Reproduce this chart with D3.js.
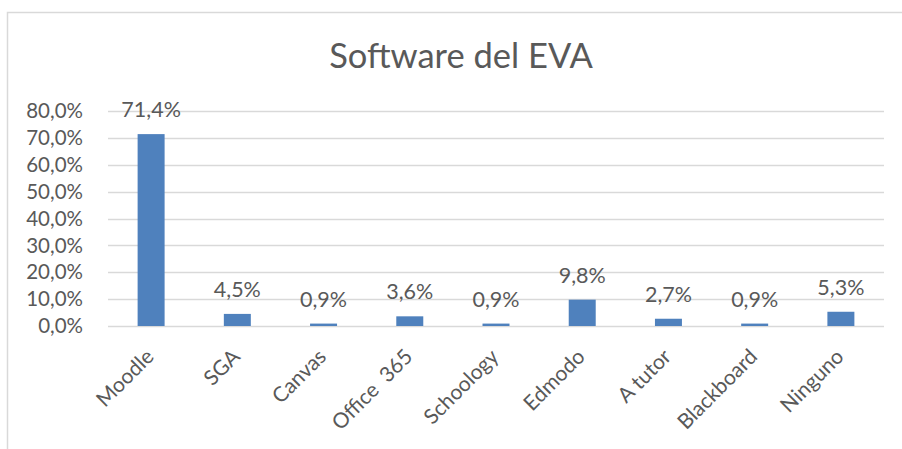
<!DOCTYPE html>
<html>
<head>
<meta charset="utf-8">
<script src="https://cdn.jsdelivr.net/npm/d3@7"></script>
<style>
  body { margin: 0; background: #fff; }
  text { font-family: Lato, "Open Sans", sans-serif; fill: #595959; }
</style>
</head>
<body>
<div id="chart"></div>
<script>
// data
const categories = ["Moodle", "SGA", "Canvas", "Office  365", "Schoology", "Edmodo", "A tutor", "Blackboard", "Ninguno"];
const values = [71.4, 4.5, 0.9, 3.6, 0.9, 9.8, 2.7, 0.9, 5.3];
const yTicks = [0, 10, 20, 30, 40, 50, 60, 70, 80];
const title = "Software del EVA";

const W = 902, H = 449;
const plot = {left: 108, right: 884, top: 111, bottom: 326};

const fmt = v => d3.format(".1f")(v).replace(".", ",") + "%";

const svg = d3.select("#chart")
  .append("svg")
    .attr("width", W)
    .attr("height", H);

// chart border
svg.append("rect")
  .attr("x", 7.5).attr("y", 12.5)
  .attr("width", W).attr("height", H)
  .attr("fill", "none")
  .attr("stroke", "#d9d9d9")
  .attr("stroke-width", 1.5);

const x = d3.scaleBand()
  .domain(categories)
  .range([plot.left, plot.right])
  .paddingInner(0.687)
  .paddingOuter(0.3435);

const y = d3.scaleLinear()
  .domain([0, 80])
  .range([plot.bottom, plot.top]);

// gridlines
svg.append("g")
  .selectAll("line")
  .data(yTicks)
  .join("line")
    .attr("x1", plot.left).attr("x2", plot.right)
    .attr("y1", d => Math.round(y(d)) + 0.5)
    .attr("y2", d => Math.round(y(d)) + 0.5)
    .attr("stroke", "#d9d9d9")
    .attr("stroke-width", 1.5);

// y tick labels
svg.append("g")
  .selectAll("text")
  .data(yTicks)
  .join("text")
    .attr("x", 83)
    .attr("y", d => y(d))
    .attr("dy", "0.35em")
    .attr("text-anchor", "end")
    .style("font-size", "20.5px")
    .text(d => fmt(d));

// bars
svg.append("g")
  .selectAll("rect")
  .data(values)
  .join("rect")
    .attr("x", (d, i) => x(categories[i]))
    .attr("width", x.bandwidth())
    .attr("y", d => y(d))
    .attr("height", d => y(0) - y(d))
    .attr("fill", "#4f81bd");

// value labels
svg.append("g")
  .selectAll("text")
  .data(values)
  .join("text")
    .attr("x", (d, i) => x(categories[i]) + x.bandwidth() / 2)
    .attr("y", d => y(d) - 17)
    .attr("text-anchor", "middle")
    .style("font-size", "21.5px")
    .text(d => fmt(d));

// category labels
svg.append("g")
  .selectAll("text")
  .data(categories)
  .join("text")
    .attr("text-anchor", "end")
    .attr("transform", d => `translate(${x(d) + x.bandwidth() / 2 + 4},${358}) rotate(-45)`)
    .style("font-size", "21px")
    .style("white-space", "pre")
    .attr("xml:space", "preserve")
    .text(d => d);

// title
svg.append("text")
  .attr("x", 461)
  .attr("y", 68)
  .attr("text-anchor", "middle")
  .style("font-size", "34.5px")
  .text(title);
</script>
</body>
</html>
